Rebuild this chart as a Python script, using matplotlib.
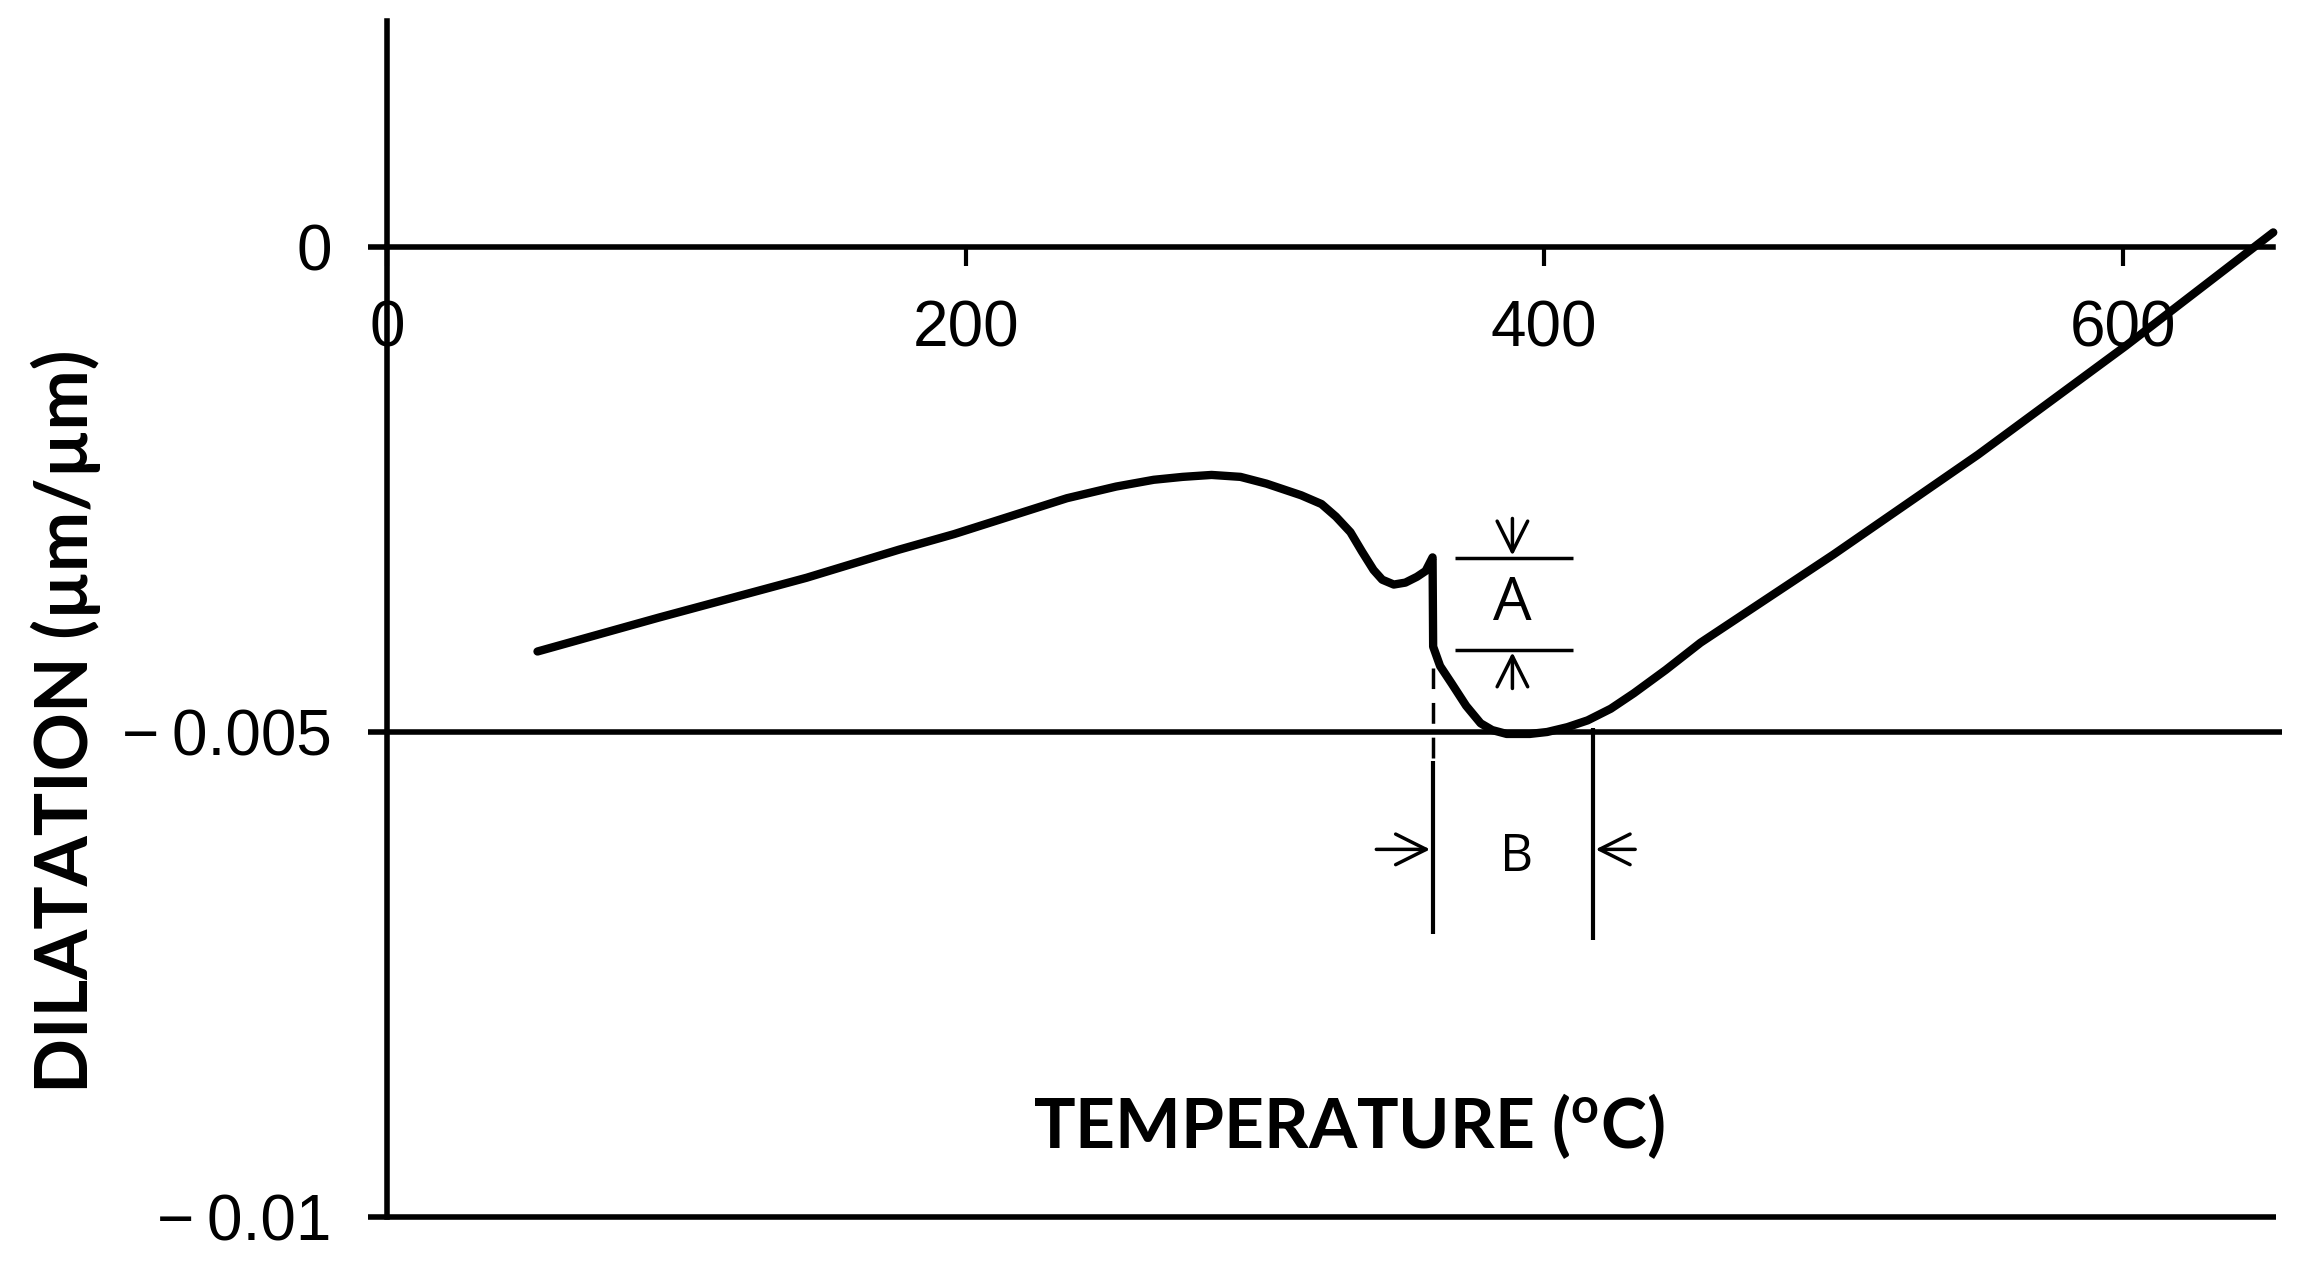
import matplotlib.pyplot as plt
import numpy as np

# dilatometer curve
temperature = [52, 94, 145, 177, 196, 215, 235, 252, 265, 275, 285, 295, 304, 316, 323, 328,
               333, 337, 341, 344, 348, 352, 356, 359, 361.4, 361.6, 364, 368, 373, 378, 382,
               387, 395, 401, 408, 415, 423, 431, 442, 454, 500, 550, 601, 652]
dilatation = [-0.00417, -0.00382, -0.00341, -0.00312, -0.00296, -0.00278, -0.00259, -0.00247,
              -0.0024, -0.00237, -0.00235, -0.00237, -0.00244, -0.00256, -0.00265, -0.00278,
              -0.00294, -0.00314, -0.00333, -0.00343, -0.00348, -0.00346, -0.0034, -0.00334,
              -0.0032, -0.00412, -0.00432, -0.0045, -0.00473, -0.00491, -0.00498, -0.00502,
              -0.00502, -0.005, -0.00495, -0.00488, -0.00476, -0.0046, -0.00436, -0.00408,
              -0.00317, -0.00214, -0.00102, 0.00015]

x_ticks = [0, 200, 400, 600]
x_tick_labels = ['0', '200', '400', '600']
y_ticks = [0, -0.005, -0.01]
y_tick_labels = ['0', '\u2212\u20090.005', '\u2212\u20090.01']

# annotation values
a_top, a_bottom, a_x = -0.00321, -0.00415, 389
b_left, b_right, b_y = 361.5, 416.8, -0.00621

fig = plt.figure(figsize=(22.99, 12.76), dpi=100)
fig.patch.set_facecolor('white')
ax = fig.add_axes([0, 0, 1, 1])
ax.set_xlim(-133.8, 660.9)
ax.set_ylim(-0.010608, 0.002546)

for s in ['top', 'right']:
    ax.spines[s].set_visible(False)
ax.spines['left'].set_position(('data', 0))
ax.spines['bottom'].set_position(('data', 0))
ax.spines['left'].set_bounds(-0.01, 0.00233)
ax.spines['bottom'].set_bounds(0, 652)
ax.spines['left'].set_linewidth(4)
ax.spines['bottom'].set_linewidth(4)

ax.set_xticks(x_ticks)
ax.set_xticklabels(x_tick_labels, fontsize=46, family='Liberation Sans')
ax.set_yticks(y_ticks)
ax.set_yticklabels(y_tick_labels, fontsize=46, family='Liberation Sans')
ax.tick_params(axis='x', direction='out', length=14, width=3, pad=24)
ax.tick_params(axis='y', direction='out', length=14, width=4, pad=26)

# reference lines at -0.005 and -0.01
ax.hlines(-0.005, 0, 655, color='black', lw=4)
ax.hlines(-0.01, 0, 653, color='black', lw=4)

ax.plot(temperature, dilatation, color='black', lw=6,
        solid_capstyle='round', solid_joinstyle='round')

arrow = dict(arrowstyle='->', lw=2.5, mutation_scale=55, color='black')

# A: step height
ax.hlines([a_top, a_bottom], 369, 410, color='black', lw=2.5)
ax.annotate('', xy=(a_x, a_top), xytext=(a_x, -0.00277), arrowprops=arrow)
ax.annotate('', xy=(a_x, a_bottom), xytext=(a_x, -0.00458), arrowprops=arrow)
ax.text(a_x, -0.00368, 'A', fontsize=44, family='Open Sans', ha='center', va='center')

# B: transformation range
ax.vlines(b_left, -0.00527, -0.00434, color='black', lw=2.5, linestyles=(0, (6, 4)))
ax.vlines(b_left, -0.00708, -0.0053, color='black', lw=3)
ax.vlines(b_right, -0.00714, -0.00496, color='black', lw=3)
ax.annotate('', xy=(b_left, b_y), xytext=(341, b_y), arrowprops=arrow)
ax.annotate('', xy=(b_right, b_y), xytext=(432.4, b_y), arrowprops=arrow)
ax.text(390.6, -0.00629, 'B', fontsize=37, family='Open Sans', ha='center', va='center')

fig.text(0.5868, 0.1176, r'TEMPERATURE ($\mathregular{^o}$C)', fontsize=50,
         family='Lato', weight='bold', ha='center', va='center')
fig.text(0.0287, 0.435, 'DILATATION (\u00b5m/\u00b5m)', fontsize=52, family='Lato',
         weight='bold', ha='center', va='center', rotation=90)

fig.savefig('out.png', dpi=100, facecolor='white')
